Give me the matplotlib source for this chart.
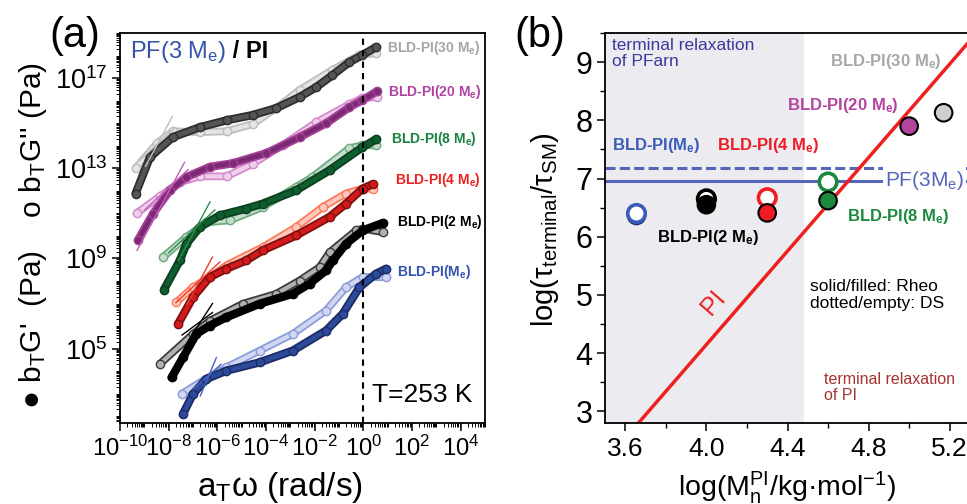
import numpy as np
import matplotlib
matplotlib.use("Agg")
from matplotlib import pyplot as plt
from matplotlib import ticker
from matplotlib.colors import to_rgb

plt.rcParams['font.family'] = ['Liberation Sans', 'DejaVu Sans']
plt.rcParams['mathtext.fontset'] = 'custom'
plt.rcParams['mathtext.rm'] = 'Liberation Sans'
plt.rcParams['mathtext.it'] = 'Liberation Sans:italic'
plt.rcParams['mathtext.bf'] = 'Liberation Sans:bold'

# ---- panel (a): log10(aT*w), log10(bT*G') / log10(bT*G'')
me_w1 = [-7.41, -7.0, -6.45, -5.63, -4.26, -2.90, -1.53, -0.85, -0.16, 0.52, 0.93]
me_g1 = [2.10, 2.99, 3.65, 4.02, 4.39, 4.91, 5.80, 6.54, 7.72, 8.32, 8.54]
me_w2 = [-7.47, -6.59, -5.63, -4.26, -2.90, -1.53, -0.71, -0.03, 0.93]
me_g2 = [2.99, 3.58, 4.17, 4.91, 5.65, 6.69, 7.72, 8.17, 8.17]

m2_w1 = [-7.88, -7.41, -6.86, -6.31, -5.63, -4.26, -2.90, -2.21, -1.53, -1.25, -0.71, -0.03, 0.79]
m2_g1 = [3.72, 4.61, 5.65, 6.02, 6.39, 6.99, 7.43, 7.88, 8.47, 8.91, 9.65, 10.24, 10.57]
m2_w2 = [-8.36, -7.0, -6.31, -4.95, -3.58, -2.62, -1.80, -1.39, -0.30, -0.03, 0.79]
m2_g2 = [4.32, 5.65, 6.24, 6.99, 7.43, 8.02, 8.61, 9.27, 10.24, 10.32, 10.17]

m4_w1 = [-7.61, -7.0, -6.31, -5.63, -4.81, -4.13, -2.76, -1.39, -0.71, -0.03, 0.38]
m4_g1 = [6.10, 7.28, 8.17, 8.54, 8.91, 9.36, 10.02, 10.84, 11.43, 12.10, 12.29]
m4_w2 = [-7.68, -7.0, -6.31, -5.57, -4.13, -2.76, -1.67, -0.71, -0.03, 0.38]
m4_g2 = [7.06, 7.72, 8.17, 8.73, 9.50, 10.39, 11.28, 11.88, 12.10, 12.10]

m8_w1 = [-8.19, -7.54, -7.27, -6.72, -5.90, -4.81, -4.13, -2.76, -1.39, -0.04, 0.53]
m8_g1 = [7.62, 8.91, 9.65, 10.39, 10.91, 11.21, 11.43, 12.02, 12.91, 13.93, 14.29]
m8_w2 = [-8.23, -7.27, -6.45, -5.49, -4.13, -2.76, -2.09, -0.57, -0.04, 0.53]
m8_g2 = [9.06, 9.95, 10.60, 10.69, 11.28, 12.17, 12.61, 13.89, 14.02, 14.02]

m20_w1 = [-9.25, -8.64, -7.95, -7.27, -6.31, -5.37, -3.98, -2.62, -1.52, -0.57, -0.04, 0.57]
m20_g1 = [9.83, 10.99, 12.02, 12.61, 13.06, 13.22, 13.67, 14.38, 15.00, 15.71, 16.02, 16.42]
m20_w2 = [-9.32, -8.36, -7.54, -6.72, -5.61, -4.55, -3.32, -1.93, -0.57, -0.04, 0.57]
m20_g2 = [11.00, 11.76, 12.38, 12.64, 12.64, 13.20, 14.02, 15.04, 15.84, 16.11, 16.16]

m30_w1 = [-9.36, -8.77, -7.83, -6.72, -5.61, -4.55, -3.57, -2.62, -1.93, -1.27, -0.57, -0.04, 0.53]
m30_g1 = [11.88, 13.49, 14.38, 14.82, 15.13, 15.36, 15.67, 16.16, 16.60, 17.13, 17.71, 18.02, 18.38]
m30_w2 = [-9.36, -8.48, -7.83, -6.72, -5.61, -4.55, -3.57, -2.62, -1.27, -0.16, 0.53]
m30_g2 = [13.00, 14.11, 14.64, 14.60, 14.64, 14.96, 15.67, 16.47, 17.36, 18.02, 18.11]

# terminal fit lines (slope ~2 for G', ~1 for G''), end points
fit_me = ([-6.7, -6.04], [2.9, 4.6], [-7.0, -5.85], [3.2, 4.3])
fit_m2 = ([-7.25, -6.2], [5.25, 7.0], [-7.45, -6.2], [5.6, 6.6])
fit_m4 = ([-7.25, -6.2], [6.96, 9.06], [-7.7, -5.9], [7.04, 8.84])
fit_m8 = ([-7.6, -6.3], [8.91, 11.51], [-8.0, -6.1], [9.25, 11.15])
fit_m20 = ([-9.3, -7.35], [9.36, 13.26], [-9.0, -7.2], [11.14, 12.94])
fit_m30 = ([-8.95, -7.85], [13.09, 15.29], [-9.2, -7.75], [13.35, 14.80])

names_a = ["BLD-PI(30 M$_\\mathbf{e}$)", "BLD-PI(20 M$_\\mathbf{e}$)", "BLD-PI(8 M$_\\mathbf{e}$)",
           "BLD-PI(4 M$_\\mathbf{e}$)", "BLD-PI(2 M$_\\mathbf{e}$)", "BLD-PI(M$_\\mathbf{e}$)"]

# ---- panel (b)
pi_logm = [3.64, 5.32]
pi_logtau = [2.70, 9.45]
pf_rheo = 6.96
pf_ds = 7.18
rheo_logm = [3.653, 4.0, 4.30, 4.60, 5.0, 5.17]
rheo_tau = [6.37, 6.55, 6.41, 6.62, 7.90, 8.13]
ds_logm = [3.653, 4.0, 4.30, 4.60]
ds_tau = [6.41, 6.65, 6.67, 6.94]

fig = plt.figure(figsize=(9.67, 5.04), dpi=100)
ax1 = fig.add_axes([120/967, 81/504, 365/967, 390/504])
ax2 = fig.add_axes([605/967, 81/504, 365/967, 390/504])


def tint(c, f):
    r = np.array(to_rgb(c))
    return tuple(r + (1 - r) * f)


def band(ax, w, g, face, edge, filled):
    x = 10.0 ** np.array(w)
    y = 10.0 ** np.array(g)
    kw = dict(solid_capstyle='round', solid_joinstyle='round')
    if filled:
        ax.plot(x, y, color=edge, lw=6.0, zorder=4, **kw)
        ax.plot(x, y, color=face, lw=3.4, zorder=4, **kw)
        ax.plot(x, y, 'o', ms=6, mfc=face, mec=edge, mew=1.0, zorder=4)
    else:
        ax.plot(x, y, color=edge, lw=5.6, zorder=3, **kw)
        ax.plot(x, y, color=tint(edge, 0.6), lw=3.0, zorder=3, **kw)
        ax.plot(x, y, 'o', ms=6, mfc=tint(edge, 0.6), mec=edge, mew=1.0, zorder=3)


series = [
    (m30_w1, m30_g1, m30_w2, m30_g2, fit_m30, '#555555', '#2E2E2E', '#BDBDBD', '#BDBDBD'),
    (m20_w1, m20_g1, m20_w2, m20_g2, fit_m20, '#7B2A72', '#A3409A', '#D58ACD', '#C060B8'),
    (m8_w1, m8_g1, m8_w2, m8_g2, fit_m8, '#0F5E2E', '#0A3F1F', '#6EAA80', '#2E8A4E'),
    (m4_w1, m4_g1, m4_w2, m4_g2, fit_m4, '#D41A1A', '#7E1010', '#FF7A5A', '#F03A2A'),
    (m2_w1, m2_g1, m2_w2, m2_g2, fit_m2, '#000000', '#000000', '#3C3C3C', '#000000'),
    (me_w1, me_g1, me_w2, me_g2, fit_me, '#2C4B9A', '#1B2C66', '#8D9BDA', '#4A62C0'),
]
for w1, g1, w2, g2, fit, face, edge, light, fitc in series:
    band(ax1, w2, g2, 'white', light, False)
    band(ax1, w1, g1, face, edge, True)
    sx, sy, hx, hy = fit
    ax1.plot(10.0 ** np.array(sx), 10.0 ** np.array(sy), color=fitc, lw=1.0, zorder=5)
    ax1.plot(10.0 ** np.array(hx), 10.0 ** np.array(hy), color=fitc, lw=1.0, zorder=5)

ax1.axvline(1.0, color='k', lw=1.5, ls=(0, (3, 2.5)), zorder=6)

ax1.set_xscale('log')
ax1.set_yscale('log')
ax1.set_xlim(1e-10, 1e5)
ax1.set_ylim(10 ** 1.7, 1e19)
ax1.xaxis.set_major_locator(ticker.FixedLocator([10.0 ** k for k in range(-10, 5, 2)]))
ax1.xaxis.set_major_formatter(ticker.LogFormatterMathtext())
ax1.xaxis.set_minor_locator(ticker.LogLocator(base=10, subs=np.arange(1, 10), numticks=100))
ax1.xaxis.set_minor_formatter(ticker.NullFormatter())
ax1.yaxis.set_major_locator(ticker.FixedLocator([1e5, 1e9, 1e13, 1e17]))
ax1.yaxis.set_major_formatter(ticker.LogFormatterMathtext())
ax1.yaxis.set_minor_locator(ticker.LogLocator(base=10, subs=np.arange(1, 10), numticks=100))
ax1.yaxis.set_minor_formatter(ticker.NullFormatter())
ax1.tick_params(which='major', direction='out', length=6, width=1.1, pad=3)
ax1.tick_params(axis='x', which='major', labelsize=17.2)
ax1.tick_params(axis='y', which='major', labelsize=19.5)
ax1.tick_params(which='minor', direction='out', length=3, width=0.7)
for s in ax1.spines.values():
    s.set_linewidth(1.3)

label_colors = ['#A6A6A6', '#B042A2', '#1A8242', '#EC2222', '#000000', '#3554B0']
label_pos = [(0.731, 0.962), (0.734, 0.849), (0.742, 0.728), (0.753, 0.623), (0.759, 0.515), (0.759, 0.387)]
for name, c, (fx, fy) in zip(names_a, label_colors, label_pos):
    ax1.text(fx, fy, name, color=c, fontsize=10, fontweight='bold', transform=ax1.transAxes,
             ha='left', va='center')

t1 = ax1.text(0.027, 0.952, "PF(3 M$_\\mathrm{e}$)", color='#3553AA', fontsize=17,
              transform=ax1.transAxes, ha='left', va='center')
ax1.annotate(" / PI", xy=(1, 0.5), xycoords=t1, va='center', ha='left', fontsize=17,
             fontweight='bold', color='k')
ax1.text(0.69, 0.072, "T=253 K", fontsize=19, transform=ax1.transAxes, ha='left', va='center')
ax1.text(0.438, -0.165, "a$_\\mathrm{T}$ω (rad/s)", fontsize=24, transform=ax1.transAxes,
         ha='center', va='center')
fig.text(33/967, 1 - 236/504, "● b$_\\mathrm{T}$G'  (Pa)    o b$_\\mathrm{T}$G'' (Pa)", fontsize=21.5,
         rotation=90, ha='center', va='center')
fig.text(75/967, 1 - 36/504, "(a)", fontsize=30, ha='center', va='center')

# ---- panel (b)
ax2.axvspan(3.5, 4.48, color='#ECEBF0', lw=0, zorder=0)
ax2.axhline(pf_rheo, color='#5465BA', lw=2.2, zorder=1)
ax2.axhline(pf_ds, color='#5465BA', lw=2.2, ls=(0, (3.3, 1.4)), zorder=1)
ax2.plot(pi_logm, pi_logtau, color='#EE2020', lw=2.5, zorder=2)

fill_c = ['#2A3E8E', '#000000', '#EE1C24', '#1B8A3F', '#B4449F', '#CFCFCF']
edge_c = ['#1E2F73', '#000000', '#000000', '#000000', '#000000', '#000000']
open_c = ['#3A5BB8', '#000000', '#EE1C24', '#1B8A3F']
ax2.scatter(rheo_logm[:1], rheo_tau[:1], s=160, c=fill_c[:1], edgecolors=edge_c[:1], linewidths=1.5, zorder=4)
ax2.scatter(ds_logm[:1], ds_tau[:1], s=160, c='white', edgecolors=open_c[:1], linewidths=2.6, zorder=5)
ax2.scatter(ds_logm[1:], ds_tau[1:], s=160, c='white', edgecolors=open_c[1:], linewidths=2.6, zorder=4)
ax2.scatter(rheo_logm[1:], rheo_tau[1:], s=160, c=fill_c[1:], edgecolors=edge_c[1:], linewidths=1.5, zorder=5)

ax2.set_xlim(3.5, 5.3)
ax2.set_ylim(2.8, 9.5)
ax2.xaxis.set_major_locator(ticker.MultipleLocator(0.4))
ax2.xaxis.set_minor_locator(ticker.MultipleLocator(0.2))
ax2.xaxis.set_major_formatter(ticker.FormatStrFormatter('%.1f'))
ax2.yaxis.set_major_locator(ticker.MultipleLocator(1))
ax2.yaxis.set_minor_locator(ticker.MultipleLocator(0.5))
ax2.tick_params(axis='x', which='major', direction='out', length=6, width=1.1, labelsize=19, pad=4)
ax2.tick_params(axis='y', which='major', direction='out', length=6, width=1.1, labelsize=22, pad=3)
ax2.tick_params(which='minor', direction='out', length=3.5, width=1.0)
for s in ax2.spines.values():
    s.set_linewidth(1.3)

tb = ax2.transAxes
ax2.text(0.019, 0.988, "terminal relaxation\nof PFarn", color='#3A3A9C', fontsize=12.5,
         transform=tb, ha='left', va='top', linespacing=1.1)
ax2.text(0.616, 0.927, "BLD-PI(30 M$_\\mathbf{e}$)", color='#A8A8A8', fontsize=12, fontweight='bold',
         transform=tb, ha='left', va='center')
ax2.text(0.499, 0.814, "BLD-PI(20 M$_\\mathbf{e}$)", color='#B4449F', fontsize=12, fontweight='bold',
         transform=tb, ha='left', va='center')
ax2.text(0.019, 0.712, "BLD-PI(M$_\\mathbf{e}$)", color='#3A5BB8', fontsize=12, fontweight='bold',
         transform=tb, ha='left', va='center')
ax2.text(0.307, 0.712, "BLD-PI(4 M$_\\mathbf{e}$)", color='#EE1C24', fontsize=12, fontweight='bold',
         transform=tb, ha='left', va='center')
ax2.text(0.142, 0.475, "BLD-PI(2 M$_\\mathbf{e}$)", color='#000000', fontsize=12, fontweight='bold',
         transform=tb, ha='left', va='center')
ax2.text(0.663, 0.530, "BLD-PI(8 M$_\\mathbf{e}$)", color='#1B8A3F', fontsize=12, fontweight='bold',
         transform=tb, ha='left', va='center')
ax2.text(0.767, 0.621, "PF(3M$_\\mathrm{e}$)", color='#5465BA', fontsize=15, transform=tb,
         ha='left', va='center', zorder=3,
         bbox=dict(boxstyle='square,pad=0.1', fc='white', ec='none'))
ax2.text(0.296, 0.308, "PI", color='#EE2020', fontsize=18, rotation=49, rotation_mode='anchor',
         transform=tb, ha='center', va='center')
ax2.text(0.562, 0.368, "solid/filled: Rheo\ndotted/empty: DS", color='k', fontsize=12.5,
         transform=tb, ha='left', va='top', linespacing=1.15)
ax2.text(0.60, 0.132, "terminal relaxation\nof PI", color='#A83232', fontsize=11.5,
         transform=tb, ha='left', va='top', linespacing=1.15)
ax2.text(0.5, -0.165, "log(M$_\\mathrm{n}^\\mathrm{PI}$/kg·mol$^\\mathrm{-1}$)", fontsize=20.5,
         transform=tb, ha='center', va='center')
fig.text(545/967, 1 - 230/504, "log(τ$_\\mathrm{terminal}$/τ$_\\mathrm{SM}$)", fontsize=21,
         rotation=90, ha='center', va='center')
fig.text(540/967, 1 - 36/504, "(b)", fontsize=30, ha='center', va='center')

fig.savefig("out.png", dpi=100)
